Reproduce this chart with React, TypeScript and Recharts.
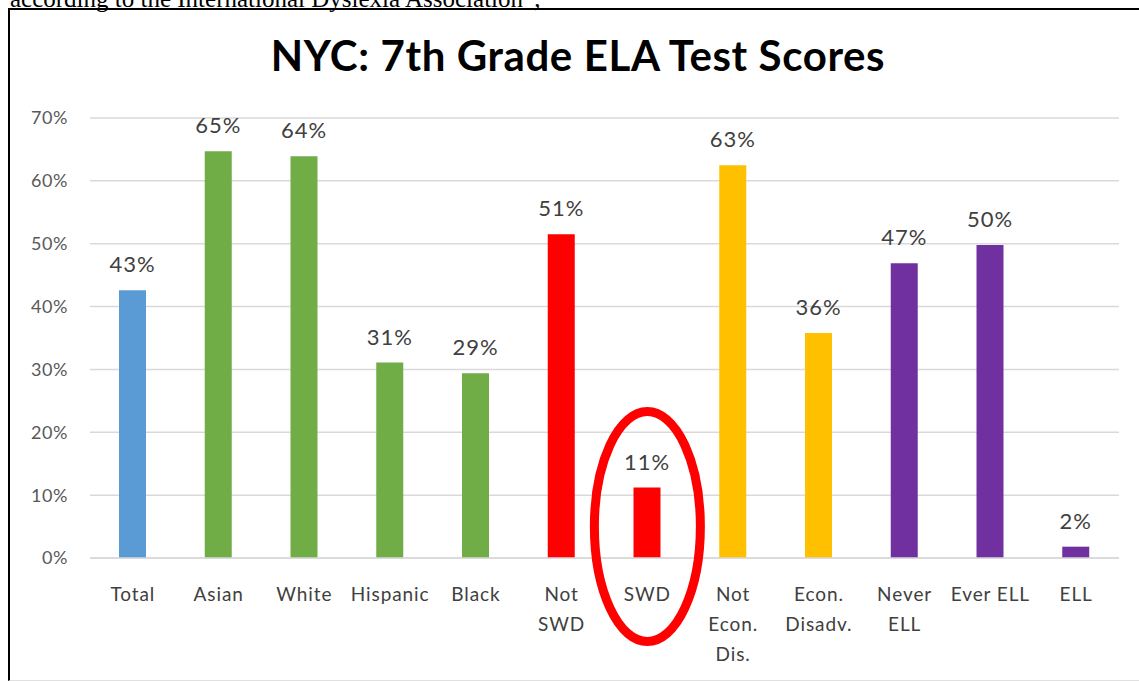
import React from "react";
import { BarChart, Bar, XAxis, YAxis, CartesianGrid, Cell, LabelList, ReferenceDot } from "recharts";

const categories = ["Total", "Asian", "White", "Hispanic", "Black", "Not\nSWD", "SWD", "Not\nEcon.\nDis.", "Econ.\nDisadv.", "Never\nELL", "Ever ELL", "ELL"];
const scores = [42.6, 64.7, 63.9, 31.1, 29.4, 51.5, 11.2, 62.5, 35.8, 46.9, 49.8, 1.8];
const scoreLabels = ["43%", "65%", "64%", "31%", "29%", "51%", "11%", "63%", "36%", "47%", "50%", "2%"];
const barColors = ["#5B9BD5", "#70AD47", "#70AD47", "#70AD47", "#70AD47", "#FF0000", "#FF0000", "#FFC000", "#FFC000", "#7030A0", "#7030A0", "#7030A0"];
const yTicks = [0, 10, 20, 30, 40, 50, 60, 70];
const highlightCategory = "SWD";
const highlightCenterValue = 5;

const data = categories.map((c, i) => ({ name: c, value: scores[i], label: scoreLabels[i] }));

const FONT = "Lato, 'Open Sans', sans-serif";

const XTick = (props: any) => {
  const { x, y, payload } = props;
  const lines = String(payload.value).split("\n");
  return (
    <g transform={`translate(${x},${y})`}>
      {lines.map((l, i) => (
        <text key={i} x={0} y={0} dy={35 + i * 30} textAnchor="middle" fill="#404040" fontSize={19} letterSpacing={0.9} fontFamily={FONT}>
          {l}
        </text>
      ))}
    </g>
  );
};

const Ellipse = (props: any) => {
  const { cx, cy } = props;
  return <ellipse cx={cx} cy={cy} rx={53} ry={115} fill="none" stroke="#FF0000" strokeWidth={9} />;
};

export default function App() {
  return (
    <div style={{ position: "absolute", left: 0, top: 0, width: 1139, height: 681, overflow: "hidden", background: "#fff" }}>
      <div style={{ position: "absolute", left: 10, top: -15, fontFamily: "'Liberation Serif', 'Times New Roman', serif", fontSize: 25, color: "#000", whiteSpace: "nowrap" }}>
        according to the International Dyslexia Association”,
      </div>
      <div style={{ position: "absolute", left: 8, top: 8, width: 1140, height: 670, borderLeft: "2.5px solid #000", borderTop: "2.5px solid #000", borderBottom: "1.5px solid #e0e0e0" }} />
      <div style={{ position: "absolute", left: 0, top: 30, width: 1156, textAlign: "center", fontFamily: FONT, fontWeight: 700, fontSize: 42, letterSpacing: 0.6, color: "#000" }}>
        NYC: 7th Grade ELA Test Scores
      </div>
      <div style={{ position: "absolute", left: 0, top: 0 }}>
        <BarChart width={1139} height={681} data={data} margin={{ top: 118, right: 20, left: 10, bottom: 23 }}>
          <CartesianGrid vertical={false} stroke="#d9d9d9" strokeWidth={1.5} />
          <XAxis dataKey="name" interval={0} axisLine={{ stroke: "#d9d9d9", strokeWidth: 1.5 }} tickLine={false} height={100} tick={<XTick />} />
          <YAxis domain={[0, 70]} ticks={yTicks} width={80} axisLine={false} tickLine={false} tickSize={0} tickMargin={22}
            tickFormatter={(v: number) => `${v}%`} tick={{ fill: "#595959", fontSize: 18, letterSpacing: 0.6, fontFamily: FONT }} />
          <Bar dataKey="value" barSize={27} isAnimationActive={false}>
            {data.map((d, i) => (
              <Cell key={i} fill={barColors[i]} />
            ))}
            <LabelList dataKey="label" position="top" offset={18} fill="#404040" fontSize={22} letterSpacing={1} fontFamily={FONT} />
          </Bar>
          <ReferenceDot x={highlightCategory} y={highlightCenterValue} shape={<Ellipse />} />
        </BarChart>
      </div>
    </div>
  );
}
